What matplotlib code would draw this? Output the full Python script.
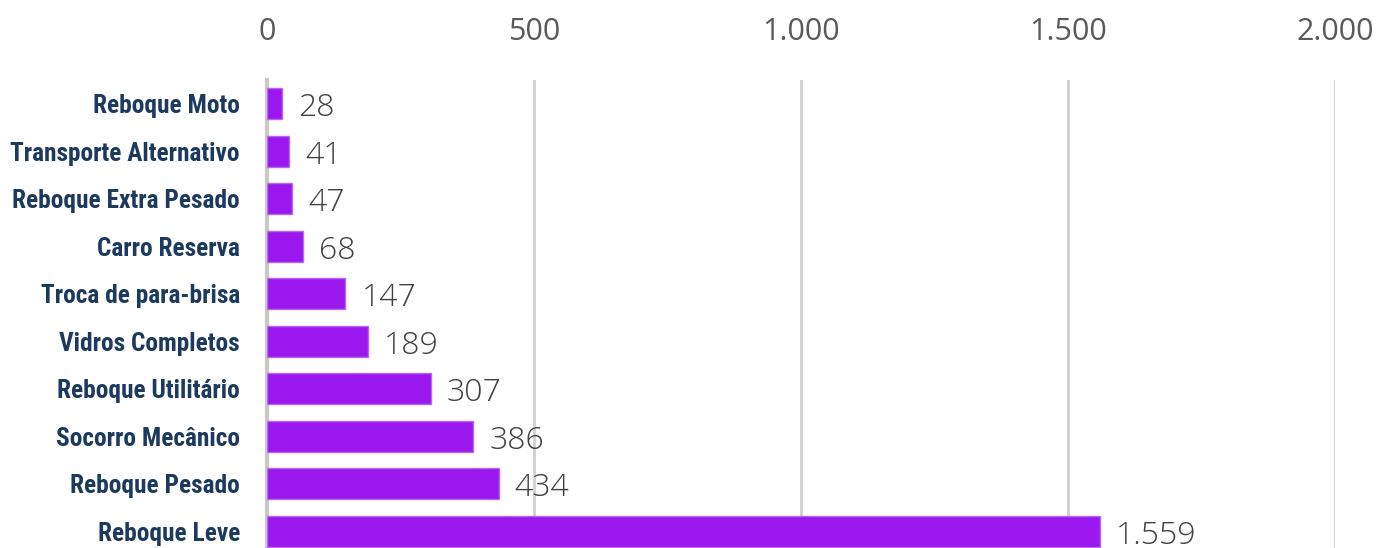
import matplotlib as mpl
import matplotlib.pyplot as plt
import numpy as np

categories = ['Reboque Moto', 'Transporte Alternativo', 'Reboque Extra Pesado',
              'Carro Reserva', 'Troca de para-brisa', 'Vidros Completos',
              'Reboque Utilitário', 'Socorro Mecânico', 'Reboque Pesado',
              'Reboque Leve']
values = [28, 41, 47, 68, 147, 189, 307, 386, 434, 1559]
xticks = [0, 500, 1000, 1500, 2000]


def fmt_br(v):
    # thousands separator as dot
    return f'{v:,.0f}'.replace(',', '.')


mpl.rcParams['font.family'] = ['Open Sans', 'DejaVu Sans']

fig = plt.figure(figsize=(13.78, 5.48), dpi=100)
ax = fig.add_axes([267 / 1378, -7 / 548, 1068 / 1378, 475 / 548])

y = np.arange(len(categories))
ax.barh(y, values, height=0.66, color='#9a18ee', edgecolor='#b567f2',
        linewidth=1, zorder=3)

for yi, v in zip(y, values):
    ax.text(v + 30, yi + 0.1, fmt_br(v), va='center', ha='left',
            fontsize=23, color='#404040', fontweight='light', zorder=4)

ax.set_xlim(0, 2000)
ax.set_ylim(len(categories) - 0.5, -0.5)
ax.set_xticks(xticks, labels=[fmt_br(t) for t in xticks])
ax.xaxis.tick_top()
ax.tick_params(axis='x', length=0, pad=24, labelsize=22, labelcolor='#5a5a5a')
ax.set_yticks(y, labels=categories)
ax.tick_params(axis='y', length=0, pad=19.5)
for lab in ax.get_yticklabels():
    lab.set_family(['Roboto Condensed', 'Lato', 'DejaVu Sans'])
    lab.set_fontweight('bold')
    lab.set_fontsize(18.3)
    lab.set_color('#1b3a5e')

ax.grid(axis='x', color='#d0d0d0', linewidth=2, zorder=0)
for s in ['top', 'right', 'bottom']:
    ax.spines[s].set_visible(False)
ax.spines['left'].set_color('#c8c8c8')
ax.spines['left'].set_linewidth(3)

fig.savefig('out.png', dpi=100)
plt.close('all')
